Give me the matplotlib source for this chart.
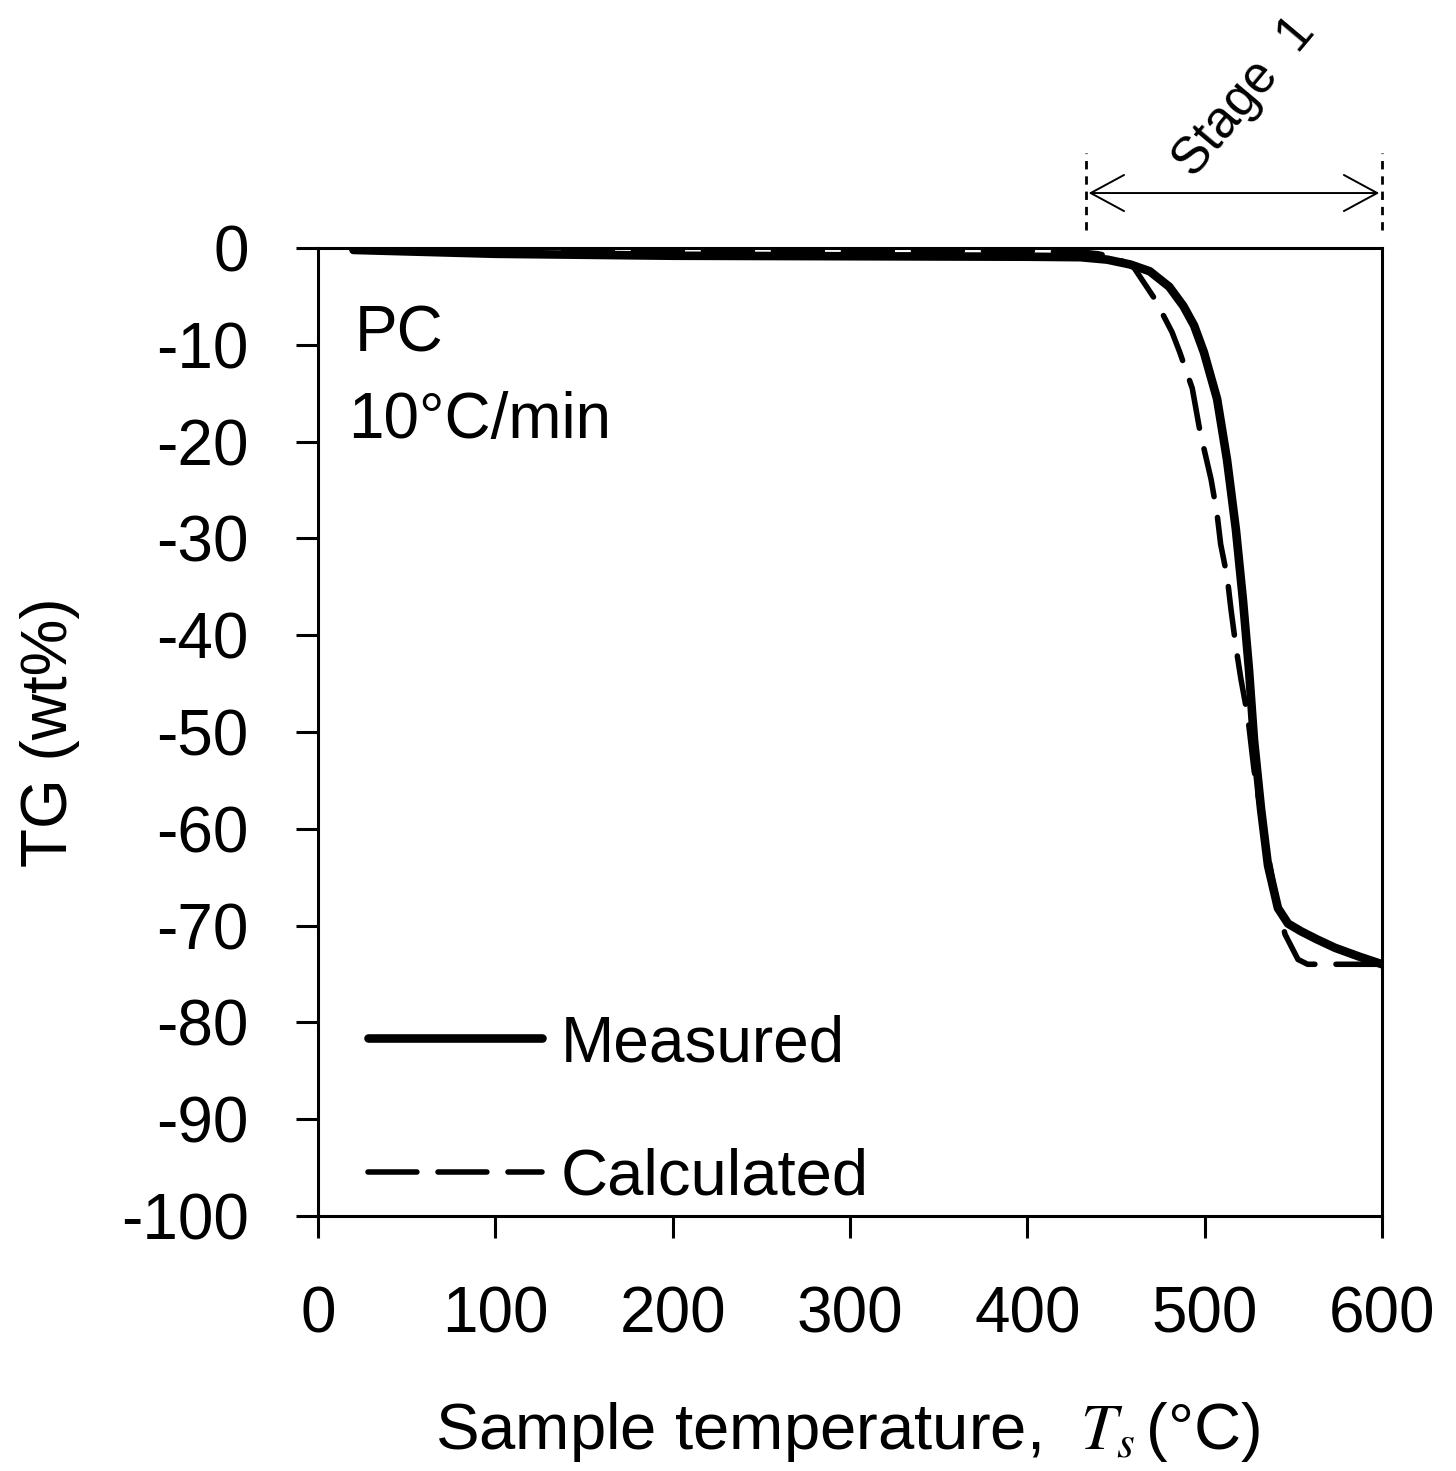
import numpy as np
import matplotlib
matplotlib.use('Agg')
import matplotlib.pyplot as plt
from matplotlib.patches import FancyArrowPatch

plt.rcParams['font.family'] = ['Liberation Sans', 'DejaVu Sans']
plt.rcParams['mathtext.fontset'] = 'stix'
plt.rcParams['axes.unicode_minus'] = False

## TG data
T_meas  = [20, 60, 100, 150, 200, 300, 400, 430, 445, 458, 469, 480, 488, 494, 499.6, 507,
           512.6, 517.6, 521.6, 525, 527.8, 531.8, 535.7, 541.3, 547, 554.4, 563, 573.5, 587, 600]
TG_meas = [-0.2, -0.4, -0.6, -0.7, -0.8, -0.85, -0.9, -0.95, -1.2, -1.7, -2.4, -4.0, -6.0, -8.0, -10.8, -15.6,
           -21.9, -29.1, -36.4, -43.6, -50.8, -58, -63.8, -68.2, -69.8, -70.6, -71.4, -72.3, -73.2, -74.0]

T_calc  = [20, 100, 200, 300, 400, 430, 440, 450, 460, 472, 481.6, 486, 493, 497.4, 503.6, 507,
           509, 512.7, 514.8, 517.6, 520.4, 524.3, 527.8, 533.5, 539.7, 545.3, 552.6, 558, 580, 600]
TG_calc = [-0.2, -0.3, -0.3, -0.3, -0.3, -0.4, -0.6, -1.0, -2.0, -5.3, -8.7, -10.8, -14.5, -19, -23.9, -27.5,
           -30.6, -34, -37.3, -41.2, -44.5, -48.4, -53.9, -60.4, -66.7, -70.9, -73.5, -74, -74, -74]

x_ticks = [0, 100, 200, 300, 400, 500, 600]
y_ticks = list(range(0, -101, -10))

stage_start, stage_end = 433, 600
series_labels = ['Measured', 'Calculated']

fig = plt.figure(figsize=(14.56, 14.71), dpi=100)
ax = fig.add_axes([0.2184, 0.1734, 0.7308, 0.658])

dash = (0, (8.8, 3.8))
ax.plot(T_meas, TG_meas, color='black', lw=6.2, solid_joinstyle='round', solid_capstyle='round', zorder=3)
ax.plot(T_calc, TG_calc, color='black', lw=4, linestyle=dash, dash_capstyle='round', zorder=3)

ax.set_xlim(0, 600)
ax.set_ylim(-100, 0)
ax.set_xticks(x_ticks)
ax.set_yticks(y_ticks)
ax.tick_params(direction='out', length=16, width=2.2, labelsize=46, pad=34)
ax.tick_params(top=False, right=False)
for s in ax.spines.values():
    s.set_linewidth(2.2)

ax.set_ylabel('TG (wt%)', fontsize=46)
ax.yaxis.set_label_coords(-0.224, 0.5)
ax.set_xlabel('Sample temperature,  $T_s\\,$(°C)', fontsize=47)
ax.xaxis.set_label_coords(0.498, -0.19)

# sample info
ax.text(21, -10.7, 'PC', fontsize=46, va='baseline', ha='left')
ax.text(17, -19.6, '10°C/min', fontsize=46, va='baseline', ha='left')

# hand-made legend
leg_y = [-81.6, -95.5]
ax.plot([28, 126.3], [leg_y[0]] * 2, color='black', lw=6.2, solid_capstyle='round')
ax.plot([28, 126.3], [leg_y[1]] * 2, color='black', lw=4, linestyle=dash, dash_capstyle='round')
ax.text(136.7, -84.0, series_labels[0], fontsize=46, va='baseline', ha='left')
ax.text(136.7, -97.8, series_labels[1], fontsize=47, va='baseline', ha='left')

# stage 1 marker above the axes
for xs in [stage_start, stage_end]:
    ax.plot([xs, xs], [1.86, 9.81], color='black', lw=2, linestyle=(0, (3, 2.5)), clip_on=False)
arr = FancyArrowPatch((stage_start, 5.68), (stage_end, 5.68), arrowstyle='<->,head_length=24,head_width=13',
                      mutation_scale=1, color='black', lw=1.4, clip_on=False)
ax.add_patch(arr)
ax.text(522.5, 15.6, 'Stage  1', fontsize=37, rotation=50, ha='center', va='center',
        rotation_mode='anchor', clip_on=False)

fig.savefig('out.png', dpi=100)
